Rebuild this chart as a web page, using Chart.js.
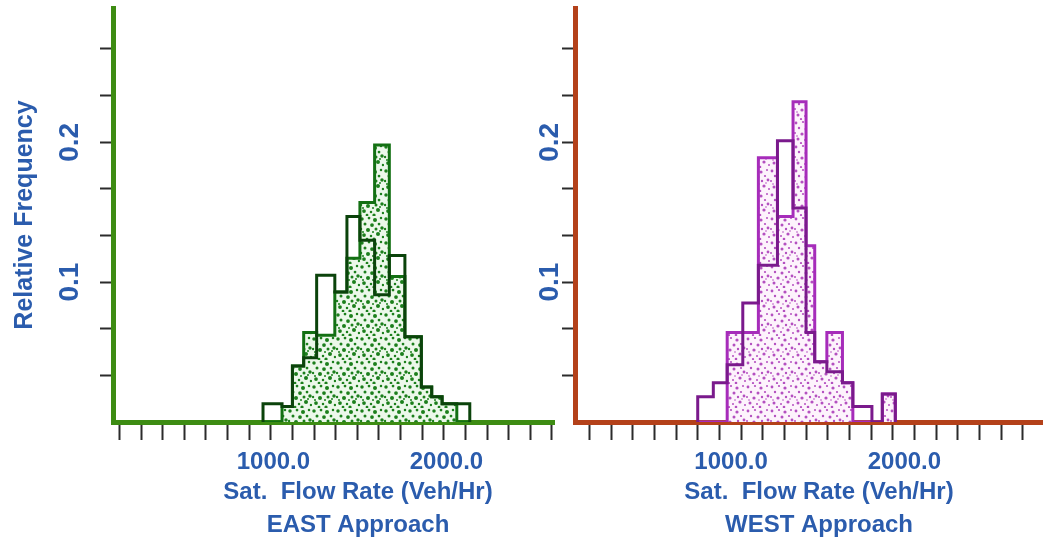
<!DOCTYPE html>
<html>
<head>
<meta charset="utf-8">
<script src="https://cdn.jsdelivr.net/npm/chart.js@4.4.1/dist/chart.umd.min.js"></script>
<style>
  html, body { margin: 0; padding: 0; background: #fff; }
  body { width: 1043px; height: 544px; position: relative; overflow: hidden; }
  canvas { position: absolute; top: 0; }
  #east { left: 0; }
  #west { left: 530px; }
</style>
</head>
<body>
<canvas id="east" width="560" height="544"></canvas>
<canvas id="west" width="513" height="544"></canvas>
<script>
// Bin edges (Veh/Hr) and relative frequencies
const eastEdges   = [830, 940, 1000, 1065, 1140, 1245, 1315, 1390, 1475, 1560, 1650, 1745, 1805, 1865, 1950, 2025];
const eastFilled  = [0, 0.011, 0.040, 0.064, 0.062, 0.093, 0.117, 0.157, 0.198, 0.104, 0.061, 0.025, 0.018, 0.013, 0];
const eastOutline = [0.013, 0.011, 0.040, 0.046, 0.105, 0.093, 0.147, 0.130, 0.091, 0.119, 0.061, 0.025, 0.018, 0.013, 0.013];

const westEdges   = [750, 840, 920, 1010, 1100, 1210, 1300, 1375, 1425, 1495, 1585, 1645, 1755, 1815, 1890];
const westFilled  = [0, 0, 0.064, 0.064, 0.189, 0.147, 0.229, 0.126, 0.043, 0.064, 0.028, 0, 0, 0.020];
const westOutline = [0.018, 0.028, 0.041, 0.085, 0.112, 0.201, 0.153, 0.064, 0.043, 0.036, 0.028, 0.011, 0, 0.020];

// Axis ticks
const xLabelValues = [1000, 2000];
const yTickValues = [0.0333, 0.0667, 0.1, 0.1333, 0.1667, 0.2, 0.2333, 0.2667];
const yTickLabels = ['', '', '0.1', '', '', '0.2', '', ''];

const xTitle = 'Sat.  Flow Rate (Veh/Hr)';
const yTitle = 'Relative Frequency';

const blue = '#2b5cad';
const family = "'Liberation Sans', Arial, sans-serif";

// dot layout of the stipple tile (24x24)
const stippleDots = [[2, 3, 1.4], [9, 2, 1.1], [15, 4, 1.6], [21, 2, 1.0], [5, 8, 1.2], [12, 9, 1.5],
  [19, 8, 1.1], [1, 13, 1.0], [8, 14, 1.6], [16, 13, 1.2], [22, 12, 1.4], [4, 19, 1.5],
  [11, 20, 1.0], [18, 18, 1.6], [23, 21, 1.0], [7, 23, 1.1], [14, 23, 1.3], [20, 15, 0.8],
  [13, 16, 0.8], [3, 16, 0.8]];

function stepPoints(edges, freqs) {
    const pts = [{ x: edges[0], y: 0 }];
    freqs.forEach((f, i) => pts.push({ x: edges[i], y: f }));
    pts.push({ x: edges[edges.length - 1], y: 0 });
    return pts;
}

function stipple(bg, dot, scale) {
    const tile = document.createElement('canvas');
    tile.width = 24;
    tile.height = 24;
    const c = tile.getContext('2d');
    c.fillStyle = bg;
    c.fillRect(0, 0, 24, 24);
    c.fillStyle = dot;
    stippleDots.forEach(([x, y, r]) => {
        c.beginPath();
        c.arc(x, y, r * scale, 0, Math.PI * 2);
        c.fill();
    });
    return c.createPattern(tile, 'repeat');
}

// two caption lines under each x axis
const captions = {
    id: 'captions',
    afterDraw(chart, args, opts) {
        const ctx = chart.ctx;
        ctx.save();
        ctx.font = `bold 24px ${family}`;
        ctx.fillStyle = blue;
        ctx.textAlign = 'center';
        ctx.textBaseline = 'middle';
        opts.lines.forEach((line, i) => ctx.fillText(line, opts.x, opts.y[i]));
        ctx.restore();
    }
};

function makeChart(id, s) {
    return new Chart(document.getElementById(id), {
        type: 'line',
        data: {
            datasets: [{
                data: stepPoints(s.edges, s.outline),
                stepped: 'before',
                borderColor: s.outlineColor,
                borderWidth: 3,
                pointRadius: 0,
                fill: false,
                order: 0
            }, {
                data: stepPoints(s.edges, s.filled),
                stepped: 'before',
                borderColor: s.fillLine,
                backgroundColor: stipple(s.bg, s.dot, s.dotScale),
                borderWidth: 3,
                pointRadius: 0,
                fill: 'origin',
                order: 1
            }]
        },
        options: {
            responsive: false,
            animation: false,
            layout: { padding: { top: 8, right: s.padRight } },
            plugins: {
                legend: { display: false },
                tooltip: { enabled: false },
                captions: { lines: [xTitle, s.name], x: s.captionX, y: [492, 525] }
            },
            scales: {
                x: {
                    type: 'linear',
                    min: s.xMin,
                    max: s.xMax,
                    z: 1,
                    afterFit: sc => { sc.height = 122; },
                    border: { color: s.axis, width: 5 },
                    grid: { drawOnChartArea: false, tickLength: 18, tickColor: '#2b2b2b', tickWidth: 2 },
                    ticks: {
                        stepSize: 125,
                        includeBounds: false,
                        autoSkip: false,
                        maxRotation: 0,
                        padding: 8,
                        labelOffset: s.labelShift,
                        color: blue,
                        font: { family: family, size: 24, weight: 'bold' },
                        callback: v => xLabelValues.includes(v) ? v.toFixed(1) : ''
                    }
                },
                y: {
                    min: 0,
                    max: 0.296,
                    afterFit: sc => {
                        sc.width = s.yWidth;
                        sc.paddingTop = 0;
                        sc.paddingBottom = 0;
                    },
                    afterBuildTicks: sc => { sc.ticks = yTickValues.map(value => ({ value })); },
                    border: { color: s.axis, width: 5 },
                    grid: { drawOnChartArea: false, tickLength: 13, tickColor: '#2b2b2b', tickWidth: 2 },
                    ticks: {
                        minRotation: 90,
                        maxRotation: 90,
                        crossAlign: 'center',
                        padding: s.yPad,
                        color: blue,
                        font: { family: family, size: 28, weight: 'bold' },
                        callback: (v, i) => yTickLabels[i]
                    },
                    title: {
                        display: s.showYTitle,
                        text: yTitle,
                        color: blue,
                        font: { family: family, size: 25, weight: 'bold' },
                        padding: { top: 10, bottom: 0 }
                    }
                }
            }
        },
        plugins: [captions]
    });
}

makeChart('east', {
    name: 'EAST Approach',
    edges: eastEdges, filled: eastFilled, outline: eastOutline,
    axis: '#3d8c13', fillLine: '#137013', outlineColor: '#0b430b',
    bg: '#ecf8ea', dot: '#1c7f1c', dotScale: 1.25,
    xMin: -37, xMax: 2513, padRight: 5, yWidth: 113, yPad: 10.5,
    labelShift: -19, captionX: 358, showYTitle: true
});

makeChart('west', {
    name: 'WEST Approach',
    edges: westEdges, filled: westFilled, outline: westOutline,
    axis: '#b4411a', fillLine: '#a62cba', outlineColor: '#7a1a8c',
    bg: '#fdf3fc', dot: '#b450c0', dotScale: 1.0,
    xMin: 42, xMax: 2742, padRight: 0, yWidth: 45, yPad: -7.5,
    labelShift: -10, captionX: 289, showYTitle: false
});
</script>
</body>
</html>
